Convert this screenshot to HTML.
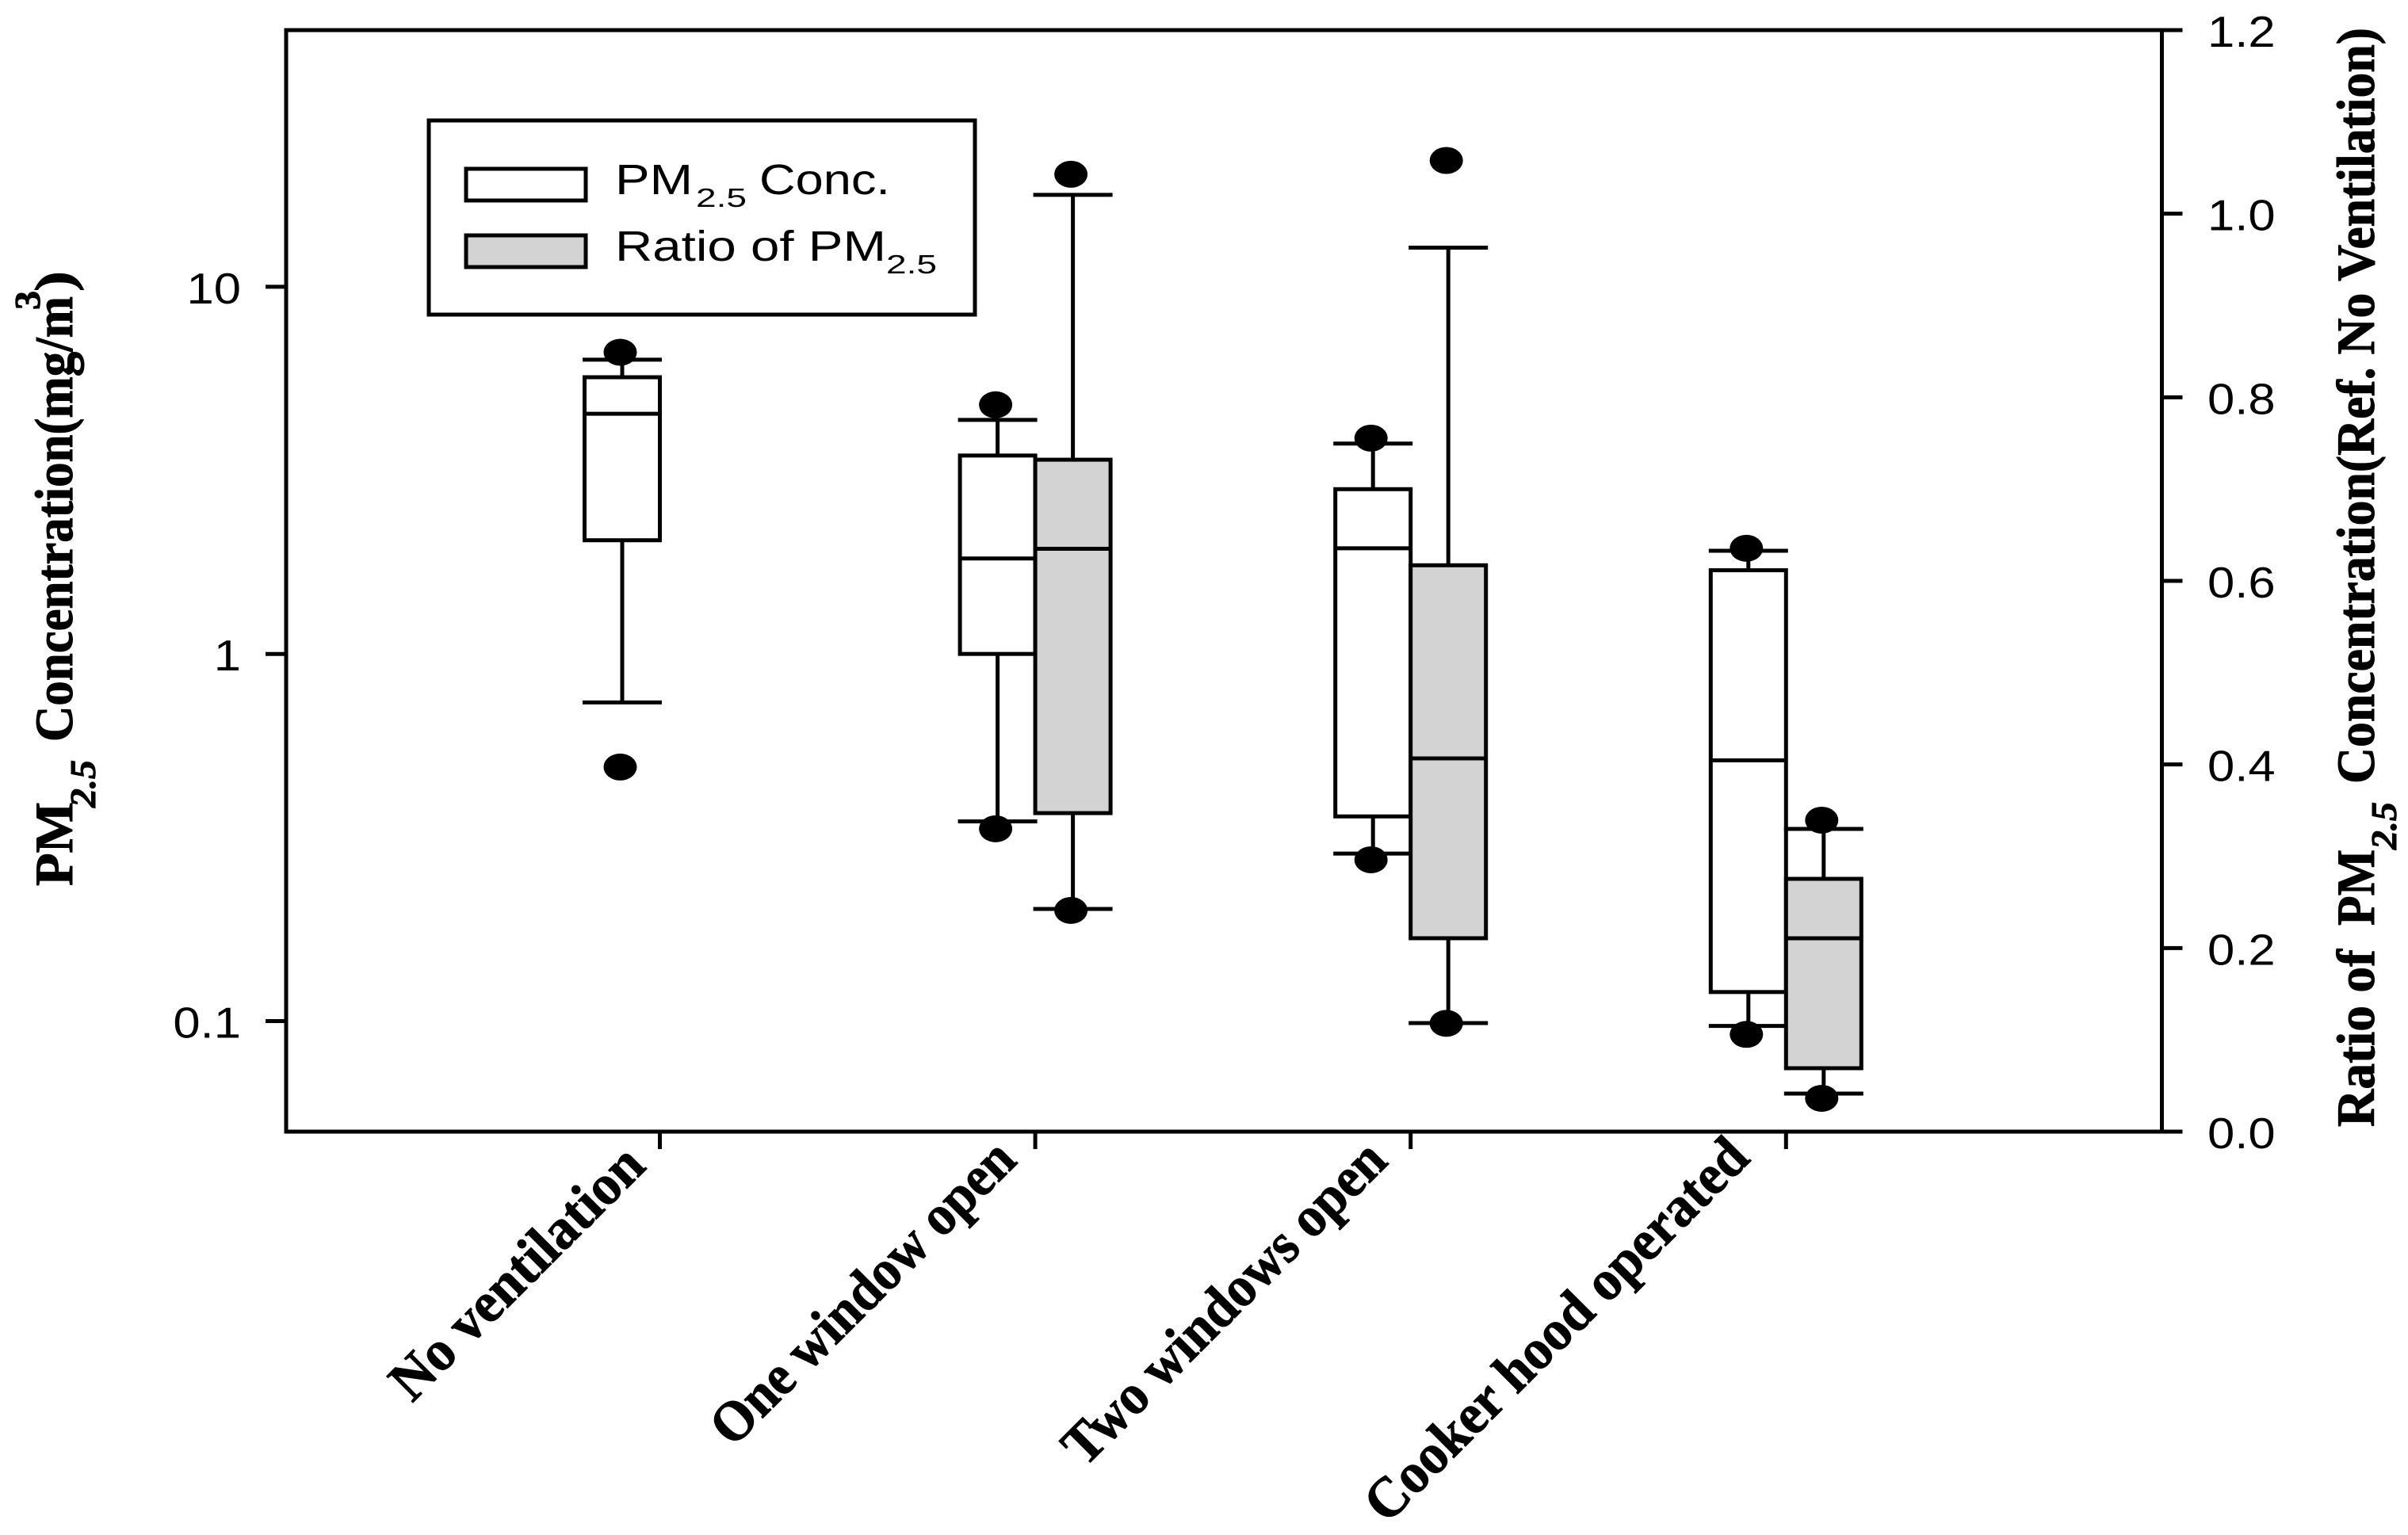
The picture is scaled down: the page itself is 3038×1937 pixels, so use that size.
<!DOCTYPE html>
<html lang="en">
<head>
<meta charset="utf-8">
<title>PM2.5 concentration by ventilation condition</title>
<style>
html,body{margin:0;padding:0;background:#fff;}
svg{display:block;}
.sans{font-family:"Liberation Sans",Arial,sans-serif;fill:#000;}
.serif{font-family:"Liberation Serif","Times New Roman",serif;font-weight:bold;fill:#000;stroke:#000;stroke-width:1;}
</style>
</head>
<body>
<svg id="chart" xmlns="http://www.w3.org/2000/svg" width="3038" height="1937" viewBox="0 0 3038 1937">
  <rect x="0" y="0" width="3038" height="1937" fill="#fff"/>
  <rect x="361" y="38" width="2366.5" height="1390" fill="none" stroke="#000" stroke-width="5"/>
  <g id="marks"></g>
  <g id="axes"></g>

  <g>
    <rect x="541" y="152" width="689" height="245" fill="#fff" stroke="#000" stroke-width="5"/>
    <rect x="588" y="213" width="151" height="40" fill="#fff" stroke="#000" stroke-width="5"/>
    <rect x="588" y="297" width="151" height="40" fill="#d3d3d3" stroke="#000" stroke-width="5"/>
    <text class="sans" x="776" y="245" font-size="54" textLength="98" lengthAdjust="spacingAndGlyphs">PM</text>
    <text class="sans" x="878" y="261" font-size="33" textLength="64" lengthAdjust="spacingAndGlyphs">2.5</text>
    <text class="sans" x="958" y="245" font-size="54" textLength="165" lengthAdjust="spacingAndGlyphs">Conc.</text>
    <text class="sans" x="776" y="329" font-size="54" textLength="342" lengthAdjust="spacingAndGlyphs">Ratio of PM</text>
    <text class="sans" x="1118" y="345" font-size="33" textLength="64" lengthAdjust="spacingAndGlyphs">2.5</text>
  </g>

  <g>
    <text class="serif" font-size="68" transform="translate(91,1118) rotate(-90)" textLength="106" lengthAdjust="spacingAndGlyphs">PM</text>
    <text class="serif" font-size="46" font-style="italic" transform="translate(120,1019) rotate(-90)" textLength="60" lengthAdjust="spacingAndGlyphs">2.5</text>
    <text class="serif" font-size="68" transform="translate(91,936) rotate(-90)" textLength="562" lengthAdjust="spacingAndGlyphs">Concentration(mg/m</text>
    <text class="serif" font-size="46" font-weight="normal" transform="translate(50,391) rotate(-90)" textLength="24" lengthAdjust="spacingAndGlyphs">3</text>
    <text class="serif" font-size="68" transform="translate(91,368) rotate(-90)" textLength="26" lengthAdjust="spacingAndGlyphs">)</text>
  </g>

  <g>
    <text class="serif" font-size="68" transform="translate(2995,1422) rotate(-90)" textLength="224" lengthAdjust="spacingAndGlyphs">Ratio of</text>
    <text class="serif" font-size="68" transform="translate(2995,1168) rotate(-90)" textLength="96" lengthAdjust="spacingAndGlyphs">PM</text>
    <text class="serif" font-size="46" font-style="italic" transform="translate(3023,1072) rotate(-90)" textLength="60" lengthAdjust="spacingAndGlyphs">2.5</text>
    <text class="serif" font-size="68" transform="translate(2995,989) rotate(-90)" textLength="954" lengthAdjust="spacingAndGlyphs">Concentration(Ref. No Ventilation)</text>
  </g>

  <g>
    <text class="serif" font-size="72" text-anchor="end" textLength="420" lengthAdjust="spacingAndGlyphs" transform="translate(817,1474) rotate(-45)">No ventilation</text>
    <text class="serif" font-size="72" text-anchor="end" textLength="510" lengthAdjust="spacingAndGlyphs" transform="translate(1285,1467) rotate(-45)">One window open</text>
    <text class="serif" font-size="72" text-anchor="end" textLength="544" lengthAdjust="spacingAndGlyphs" transform="translate(1753,1468) rotate(-45)">Two windows open</text>
    <text class="serif" font-size="72" text-anchor="end" textLength="651" lengthAdjust="spacingAndGlyphs" transform="translate(2210,1464) rotate(-45)">Cooker hood operated</text>
  </g>
</svg>
<script>
// Chart data
const categories = ["No ventilation", "One window open", "Two windows open", "Cooker hood operated"];

// PM2.5 concentration (mg/m3), left log axis
const pmWhiskerLow  = [0.738, 0.350, 0.286, 0.097];
const pmBoxLow      = [2.04, 1.00, 0.361, 0.120];
const pmMedian      = [4.51, 1.82, 1.94, 0.513];
const pmBoxHigh     = [5.67, 3.47, 2.81, 1.69];
const pmWhiskerHigh = [6.33, 4.34, 3.74, 1.91];
const pmOutlierLow  = [0.492, 0.334, 0.275, 0.092];
const pmOutlierHigh = [6.63, 4.77, 3.87, 1.94];

// Ratio of PM2.5 (no value for the reference category), right linear axis
const ratioWhiskerLow  = [null, 0.2426, 0.1183, 0.0414];
const ratioBoxLow      = [null, 0.347, 0.2107, 0.0691];
const ratioMedian      = [null, 0.635, 0.4066, 0.2107];
const ratioBoxHigh     = [null, 0.732, 0.617, 0.2754];
const ratioWhiskerHigh = [null, 1.0205, 0.963, 0.3298];
const ratioOutlierLow  = [null, 0.241, 0.118, 0.0363];
const ratioOutlierHigh = [null, 1.043, 1.058, 0.3393];

const leftTickValues = [10, 1, 0.1];
const leftTickLabels = ["10", "1", "0.1"];
const rightTickValues = [0, 0.2, 0.4, 0.6, 0.8, 1.0, 1.2];
const rightTickLabels = ["0.0", "0.2", "0.4", "0.6", "0.8", "1.0", "1.2"];

// Axis functions
const NS = "http://www.w3.org/2000/svg";
const plotLeft = 361, plotRight = 2727.5, plotTop = 38, plotBottom = 1428;
const logMin = Math.log10(0.05), logMax = Math.log10(50);
function yLeft(v) {
  return plotBottom - (Math.log10(v) - logMin) / (logMax - logMin) * (plotBottom - plotTop);
}
function yRight(v) {
  return plotBottom - v / 1.2 * (plotBottom - plotTop);
}
function xCategory(i) {
  return 832.5 + i * 473.6;
}

const marks = document.getElementById("marks");
const axes = document.getElementById("axes");
const boxWidth = 95, capWidth = 100, lineWidth = 5;

function addLine(parent, x1, y1, x2, y2, w) {
  const el = document.createElementNS(NS, "line");
  el.setAttribute("x1", x1);
  el.setAttribute("y1", y1);
  el.setAttribute("x2", x2);
  el.setAttribute("y2", y2);
  el.setAttribute("stroke", "#000");
  el.setAttribute("stroke-width", w);
  parent.appendChild(el);
  return el;
}

function drawBox(parent, center, fill, yScale, low, q1, med, q3, high, outLow, outHigh) {
  const wl = addLine(parent, center, yScale(high), center, yScale(low), lineWidth);
  
  

  const capHigh = addLine(parent, center - capWidth / 2, yScale(high), center + capWidth / 2, yScale(high), lineWidth);
  
  

  const capLow = addLine(parent, center - capWidth / 2, yScale(low), center + capWidth / 2, yScale(low), lineWidth);
  
  

  const rect = document.createElementNS(NS, "rect");
  rect.setAttribute("x", center - boxWidth / 2);
  rect.setAttribute("y", yScale(q3));
  rect.setAttribute("width", boxWidth);
  rect.setAttribute("height", yScale(q1) - yScale(q3));
  rect.setAttribute("fill", fill);
  rect.setAttribute("stroke", "#000");
  rect.setAttribute("stroke-width", lineWidth);
  
  
  parent.appendChild(rect);

  const medLine = addLine(parent, center - boxWidth / 2, yScale(med), center + boxWidth / 2, yScale(med), lineWidth);
  
  

  [outLow, outHigh].forEach(function (v) {
    const dot = document.createElementNS(NS, "ellipse");
    dot.setAttribute("cx", center - 2.5);
    dot.setAttribute("cy", yScale(v));
    dot.setAttribute("rx", 21);
    dot.setAttribute("ry", 17);
    dot.setAttribute("fill", "#000");
    
    
    parent.appendChild(dot);
  });
}

// Grey boxes are drawn after white ones, so they sit on top at the shared edge
categories.forEach(function (name, i) {
  const g = document.createElementNS(NS, "g");
  
  
  marks.appendChild(g);
  drawBox(g, xCategory(i) - boxWidth / 2, "#fff", yLeft, pmWhiskerLow[i], pmBoxLow[i], pmMedian[i], pmBoxHigh[i], pmWhiskerHigh[i], pmOutlierLow[i], pmOutlierHigh[i]);
  if (ratioMedian[i] !== null) {
    drawBox(g, xCategory(i) + boxWidth / 2, "#d3d3d3", yRight, ratioWhiskerLow[i], ratioBoxLow[i], ratioMedian[i], ratioBoxHigh[i], ratioWhiskerHigh[i], ratioOutlierLow[i], ratioOutlierHigh[i]);
  }
  const xt = addLine(axes, xCategory(i), plotBottom, xCategory(i), plotBottom + 22, 5);
  
  
});

function addTickLabel(x, y, label, anchor) {
  const t = document.createElementNS(NS, "text");
  t.setAttribute("class", "sans");
  t.setAttribute("font-size", "55");
  t.setAttribute("text-anchor", anchor);
  t.setAttribute("transform", "translate(" + x + "," + y + ") scale(1.12,1)");
  t.textContent = label;
  axes.appendChild(t);
  return t;
}

leftTickValues.forEach(function (v, i) {
  const y = yLeft(v);
  const tick = addLine(axes, plotLeft - 26, y, plotLeft, y, 5);
  
  
  const label = addTickLabel(304, y + 21, leftTickLabels[i], "end");
  
  
});

rightTickValues.forEach(function (v, i) {
  const y = yRight(v);
  const tick = addLine(axes, plotRight, y, plotRight + 26, y, 5);
  
  
  const label = addTickLabel(2785, y + 21, rightTickLabels[i], "start");
  
  
});
</script>
</body>
</html>
